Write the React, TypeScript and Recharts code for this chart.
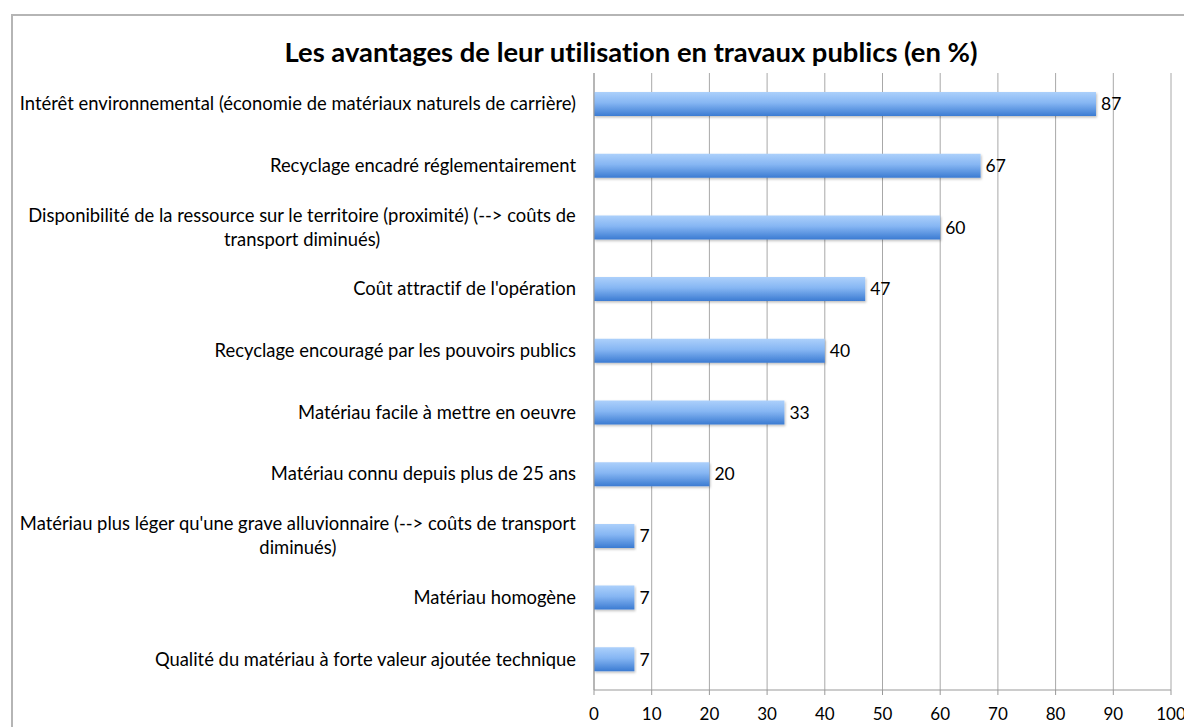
import React from "react";
import { BarChart, Bar, XAxis, YAxis, CartesianGrid, LabelList } from "recharts";

const categories = [
  "Intérêt environnemental (économie de matériaux naturels de carrière)",
  "Recyclage encadré réglementairement",
  "Disponibilité de la ressource sur le territoire (proximité) (--> coûts de\ntransport diminués)",
  "Coût attractif de l'opération",
  "Recyclage encouragé par les pouvoirs publics",
  "Matériau facile à mettre en oeuvre",
  "Matériau connu depuis plus de 25 ans",
  "Matériau plus léger qu'une grave alluvionnaire (--> coûts de transport\ndiminués)",
  "Matériau homogène",
  "Qualité du matériau à forte valeur ajoutée technique",
];
const values = [87, 67, 60, 47, 40, 33, 20, 7, 7, 7];
const xTicks = [0, 10, 20, 30, 40, 50, 60, 70, 80, 90, 100];
const separatorTicks = [0, 1, 2, 3, 4, 5, 6, 7, 8, 9, 10];

const data = categories.map((name, i) => ({ name, value: values[i] }));

const FONT = "Lato, 'Open Sans', sans-serif";
const LABEL_SIZE = 18.4;
const noLig: React.CSSProperties = { fontVariantLigatures: "none", fontFeatureSettings: '"liga" 0, "clig" 0' };

let ctx: CanvasRenderingContext2D | null = null;
function measure(t: string, size: number) {
  if (!ctx) ctx = document.createElement("canvas").getContext("2d");
  if (!ctx) return t.length * size * 0.5;
  ctx.font = `${size}px Lato`;
  return ctx.measureText(t).width;
}

function CategoryTick(props: any) {
  const { x, y, payload } = props;
  const lines = String(payload.value).split("\n");
  const lh = 24;
  if (lines.length === 1) {
    return (
      <text x={x} y={y} dy="0.35em" textAnchor="end" fontSize={LABEL_SIZE} fontFamily={FONT} fill="#000" style={noLig}>
        {lines[0]}
      </text>
    );
  }
  const maxW = Math.max(...lines.map((l) => measure(l, LABEL_SIZE)));
  const cx = x - maxW / 2;
  const start = y - ((lines.length - 1) * lh) / 2;
  return (
    <g>
      {lines.map((l, i) => (
        <text key={i} x={cx} y={start + i * lh} dy="0.35em" textAnchor="middle" fontSize={LABEL_SIZE} fontFamily={FONT} fill="#000" style={noLig}>
          {l}
        </text>
      ))}
    </g>
  );
}

export default function App() {
  return (
    <div style={{ position: "fixed", left: 0, top: 0, width: 1184, height: 727, overflow: "hidden", background: "#fff" }}>
      <div
        style={{
          position: "absolute",
          left: 11,
          top: 14,
          width: 1300,
          height: 800,
          border: "2px solid #b5b5b5",
        }}
      />
      <div
        style={{
          position: "absolute",
          left: 12,
          top: 33,
          width: 1238,
          textAlign: "center",
          fontFamily: FONT,
          fontWeight: 700,
          fontSize: 27.4,
          lineHeight: "38px",
          color: "#000",
          ...noLig,
        }}
      >
        Les avantages de leur utilisation en travaux publics (en %)
      </div>
      <div style={{ position: "absolute", left: 0, top: 0 }}>
        <BarChart
          width={1184}
          height={727}
          layout="vertical"
          data={data}
          margin={{ top: 73, right: 13, bottom: 0, left: 0 }}
          barCategoryGap={0}
        >
          <defs>
            <linearGradient id="barGrad" x1="0" y1="0" x2="0" y2="1">
              <stop offset="0%" stopColor="#acd0fb" />
              <stop offset="45%" stopColor="#86b6f3" />
              <stop offset="100%" stopColor="#3b7bd2" />
            </linearGradient>
            <filter id="shadow" x="-5%" y="-20%" width="110%" height="150%">
              <feDropShadow dx="1" dy="1.5" stdDeviation="1" floodColor="#000" floodOpacity="0.25" />
            </filter>
          </defs>
          <CartesianGrid vertical horizontal={false} stroke="#a8a8a8" yAxisId="cat" />
          <XAxis
            type="number"
            domain={[0, 100]}
            ticks={xTicks}
            interval={0}
            height={37}
            tickSize={5}
            tickMargin={13}
            stroke="#999"
            axisLine={{ stroke: "#999" }}
            tickLine={{ stroke: "#999" }}
            tick={{ fill: "#000", fontSize: 17, fontFamily: FONT }}
          />
          <YAxis
            yAxisId="cat"
            type="category"
            dataKey="name"
            width={594}
            tickSize={0}
            tickMargin={18}
            tickLine={false}
            axisLine={{ stroke: "#999" }}
            interval={0}
            tick={<CategoryTick />}
          />
          <YAxis
            yAxisId="sep"
            type="number"
            domain={[0, 10]}
            ticks={separatorTicks}
            interval={0}
            width={0}
            tickSize={6}
            axisLine={false}
            tickLine={{ stroke: "#999" }}
            tickFormatter={() => ""}
          />
          <Bar
            yAxisId="cat"
            dataKey="value"
            barSize={24}
            fill="url(#barGrad)"
            filter="url(#shadow)"
            isAnimationActive={false}
          >
            <LabelList dataKey="value" position="right" offset={5} fill="#000" fontSize={17.5} fontFamily={FONT} />
          </Bar>
        </BarChart>
      </div>
    </div>
  );
}
